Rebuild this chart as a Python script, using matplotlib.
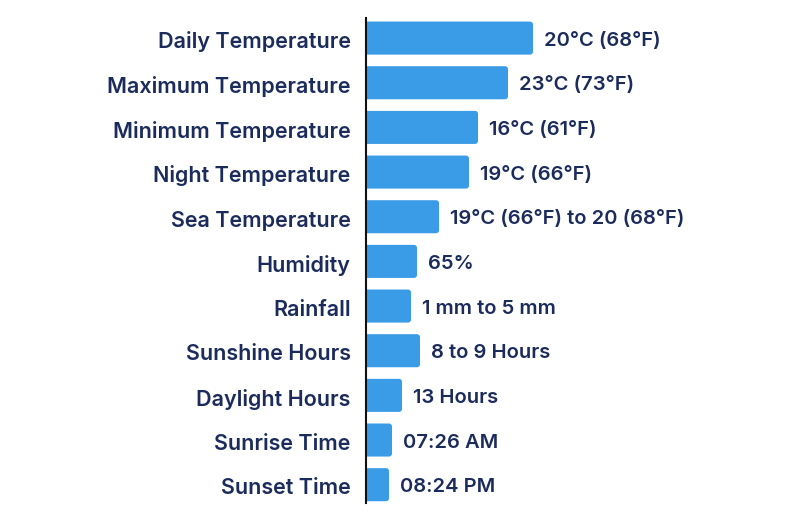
import matplotlib
matplotlib.use("Agg")
import matplotlib.pyplot as plt
from matplotlib.patches import FancyBboxPatch

categories = [
    "Daily Temperature", "Maximum Temperature", "Minimum Temperature",
    "Night Temperature", "Sea Temperature", "Humidity", "Rainfall",
    "Sunshine Hours", "Daylight Hours", "Sunrise Time", "Sunset Time",
]
# bar lengths (arbitrary scale)
bar_lengths = [167, 142, 112, 103, 73, 51, 45, 54, 36, 26, 23]
value_labels = [
    "20°C (68°F)", "23°C (73°F)", "16°C (61°F)", "19°C (66°F)",
    "19°C (66°F) to 20 (68°F)", "65%", "1 mm to 5 mm", "8 to 9 Hours",
    "13 Hours", "07:26 AM", "08:24 PM",
]

BAR = "#3a9be6"
TEXT = "#1b2b5c"
plt.rcParams['font.family'] = ['Inter', 'DejaVu Sans']

fig = plt.figure(figsize=(8, 5.23), dpi=100)
ax = fig.add_axes([366 / 800, 1 - 503 / 523, 414 / 800, 485 / 523])

n = len(categories)
ax.set_xlim(0, 414)
ax.set_ylim(n - 1 + 0.41, -0.45)

row_px = 485 / (n - 1 + 0.86)
h = 0.74
for i, (v, lab) in enumerate(zip(bar_lengths, value_labels)):
    box = FancyBboxPatch((-5, i - h / 2), v + 5, h,
                         boxstyle="round,pad=0,rounding_size=3",
                         mutation_aspect=1 / row_px,
                         fc=BAR, ec="none", zorder=2)
    ax.add_patch(box)
    ax.text(v + 11, i + 0.06, lab, va="center", ha="left", fontsize=14.5,
            fontweight="semibold", color=TEXT)

ax.set_yticks([i + 0.04 for i in range(n)])
ax.set_yticklabels(categories, fontsize=15.5, fontweight="semibold", color=TEXT)
ax.tick_params(axis="y", length=0, pad=11)
ax.set_xticks([])
for s in ["top", "right", "bottom"]:
    ax.spines[s].set_visible(False)
ax.spines["left"].set_color("#111111")
ax.spines["left"].set_linewidth(1.5)
ax.spines["left"].set_zorder(3)

fig.savefig("out.png", dpi=100)
